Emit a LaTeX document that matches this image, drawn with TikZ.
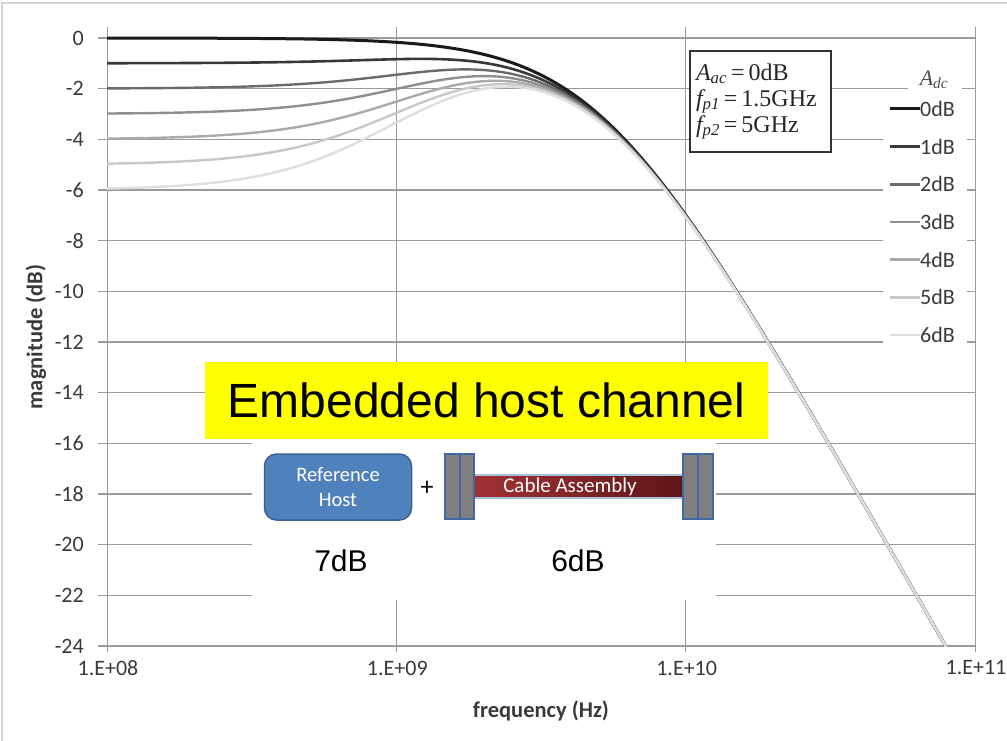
\documentclass[tikz,border=0pt]{standalone}
\usepackage{fontspec}
\setmainfont{Liberation Sans}
\newfontfamily\calibri{Carlito}
\newfontfamily\timesf{Liberation Serif}
\definecolor{gridc}{HTML}{9A9A9A}
\definecolor{bordc}{HTML}{D4D4D4}
\definecolor{labc}{HTML}{3A3A3A}
\definecolor{cz}{HTML}{1A1A1A}
\definecolor{ca}{HTML}{383838}
\definecolor{cb}{HTML}{6A6A6A}
\definecolor{cc}{HTML}{8E8E8E}
\definecolor{cd}{HTML}{AAAAAA}
\definecolor{ce}{HTML}{C8C8C8}
\definecolor{cf}{HTML}{DEDEDE}
\definecolor{hostfill}{HTML}{4F81BD}
\definecolor{hostdraw}{HTML}{3A6293}
\definecolor{connfill}{HTML}{7F7F7F}
\definecolor{conndraw}{HTML}{3F69A0}
\definecolor{cableL}{HTML}{A23234}
\definecolor{cableR}{HTML}{5E1517}
\definecolor{cableedge}{HTML}{A9C0DD}
\definecolor{yel}{HTML}{FFFF00}
\tikzset{
  gridline/.style={gridc, line width=1.1pt},
  ticklab/.style={text=labc, font=\calibri\fontsize{22}{24}\selectfont, inner sep=0pt},
  axtitle/.style={text=labc, font=\calibri\bfseries\fontsize{22.5}{26}\selectfont, inner sep=0pt},
  curve/.style={line width=#1, line join=round},
  leglab/.style={anchor=west, text=labc, font=\calibri\fontsize{22}{24}\selectfont, inner sep=0pt},
  annot/.style={draw=black!80, line width=2pt, fill=white, minimum width=141pt, minimum height=101pt,
     text width=129pt, align=left, inner sep=3pt, font=\timesf\fontsize{24}{27}\selectfont, text=black!85},
  hostbox/.style={fill=hostfill, draw=hostdraw, line width=1.5pt, rounded corners=12pt,
     minimum width=147pt, minimum height=66pt, align=center, text=white,
     font=\calibri\fontsize{20.5}{25}\selectfont},
  conn/.style={fill=connfill, draw=conndraw, line width=1.5pt},
  bigtext/.style={font=\fontsize{30}{32}\selectfont, text=black},
}
\newcommand{\ctledb}[2]{10*log10(pow(10,-#2/10)+pow(pow(10,#1-9)/1.5,2))-10*log10(1+pow(pow(10,#1-9)/1.5,2))-10*log10(1+pow(pow(10,#1-9)/5,2))}
\begin{document}
\begin{tikzpicture}[x=1pt,y=-1pt]
\useasboundingbox (0,0) rectangle (1007,741);
\fill[white] (0,0) rectangle (1007,741);
\draw[bordc, line width=2.5pt] (2,741) -- (2,3) -- (1007,3);

% horizontal grid + y labels
\foreach \k in {0,...,12}{
  \pgfmathtruncatemacro\v{-2*\k}
  \draw[gridline] (98,{38+50.6667*\k}) -- (975,{38+50.6667*\k});
  \node[ticklab, anchor=east] (yl\k) at (84,{38+50.6667*\k}) {\v};
}
% vertical grid + x labels
\foreach \d/\lab in {0/08,1/09,2/10,3/11}{
  \draw[gridline, line width=0.9pt] ({107+289.333*\d},27) -- ({107+289.333*\d},652);
  \node[ticklab] (xl\d) at ({108+289.333*\d},668) {1.E+\lab};
}
\node[axtitle, rotate=90] (ytitle) at (36,337) {magnitude (dB)};
\node[axtitle] (xtitle) at (541,711) {frequency (Hz)};

% curves
\begin{scope}
\clip (107,20) rectangle (975,646);
\foreach \a/\c/\w in {0/cz/3pt,1/ca/2.6pt,2/cb/2.4pt,3/cc/2.4pt,4/cd/2.4pt,5/ce/2.4pt,6/cf/2.4pt}{
  \draw[curve=\w, \c] plot[variable=\t, domain=8:10.93, samples=220]
     ({107+289.333*(\t-8)}, {38-25.3333*(\ctledb{\t}{\a})});
}
\end{scope}

% annotation box
\node[annot] (ann) at (760.5,101.5) {{\itshape A}\textsubscript{\itshape ac}\,=\,0dB\\[-1pt]
{\itshape f}\textsubscript{\itshape p1}\,=\,1.5GHz\\[-1pt]
{\itshape f}\textsubscript{\itshape p2}\,=\,5GHz};

% legend
\fill[white] (883,96) rectangle (967,356);
\fill[white] (908,66) rectangle (962,96);
\node[inner sep=0pt, font=\timesf\itshape\fontsize{22}{24}\selectfont, text=black!70] (legtitle) at (934,80) {A\textsubscript{dc}};
\foreach \i/\c/\w in {0/cz/3pt,1/ca/2.6pt,2/cb/2.6pt,3/cc/2.6pt,4/cd/2.6pt,5/ce/2.6pt,6/cf/2.6pt}{
  \coordinate (ls\i) at (890,{109+37.67*\i});
  \coordinate (le\i) at (920,{109+37.67*\i});
  \draw[\c, line width=\w] (ls\i) -- (le\i);
  \node[leglab] (lg\i) at (le\i) {\i dB};
}

% embedded host channel
\node[fill=yel, minimum width=563pt, minimum height=77pt, inner sep=0pt,
      font=\fontsize{48}{50}\selectfont] (emb) at (486.5,400.5) {Embedded host channel};
\fill[white] (252,439) rectangle (716,600);

\node[hostbox] (host) at (338,487) {Reference\\Host};
\node[font=\calibri\fontsize{26}{28}\selectfont, inner sep=0pt] (plus) at (427,488) {+};

\shade[left color=cableL, right color=cableR] (474,475) rectangle (683,498);
\draw[cableedge, line width=1.2pt] (474,475) -- (683,475) (474,498) -- (683,498);
\node[text=white, font=\calibri\fontsize{21}{22}\selectfont, inner sep=0pt] (cable) at (570,487) {Cable Assembly};
\draw[conn] (445,454) rectangle (460,519);
\draw[conn] (460,454) rectangle (474,519);
\draw[conn] (683,454) rectangle (698,519);
\draw[conn] (698,454) rectangle (713,519);

\node[bigtext] (db7) at (341,561) {7dB};
\node[bigtext] (db6) at (578,561) {6dB};
\end{tikzpicture}
\end{document}
